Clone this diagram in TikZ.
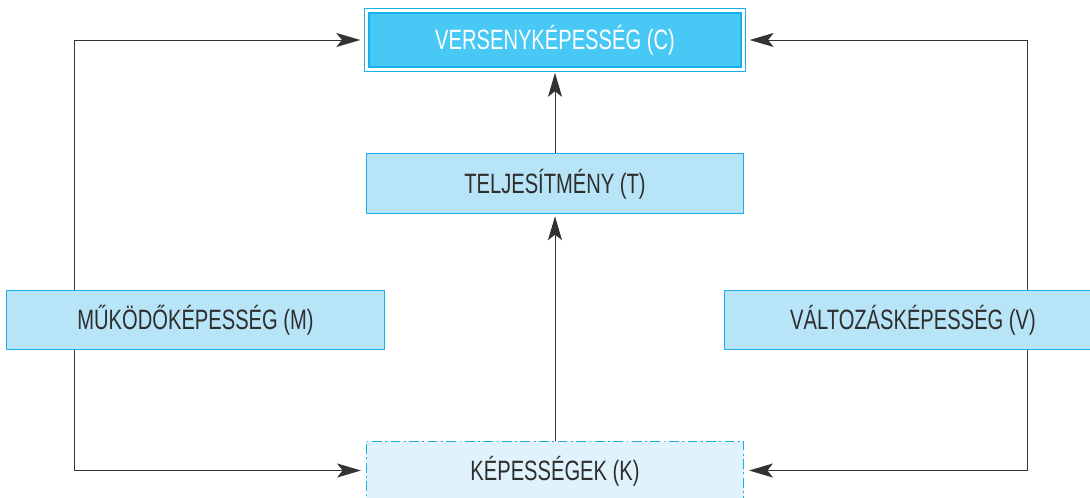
\documentclass[tikz,border=0pt]{standalone}
\usepackage{fontspec}
\setmainfont[FakeStretch=0.72]{Liberation Sans}
\usetikzlibrary{arrows.meta}
\definecolor{boxline}{HTML}{1CAEE8}
\definecolor{boxfill}{HTML}{B8E4F8}
\definecolor{topfill}{HTML}{48C8F5}
\definecolor{basefill}{HTML}{E0F3FC}
\definecolor{textgray}{HTML}{2E2E2E}
\definecolor{linegray}{HTML}{333333}

\begin{document}
\begin{tikzpicture}[x=0.025cm, y=-0.025cm, font=\fontsize{19.9}{24}\selectfont,
	box/.style={draw=boxline, line width=0.7pt, fill=boxfill, text=textgray, minimum width=9.43cm,
		minimum height=1.475cm, inner sep=0pt, text height=14.2pt, text depth=0pt},
	topbox/.style={box, fill=topfill, text=white, line width=1.4pt, minimum width=9.3cm, minimum height=1.35cm},
	basebox/.style={box, fill=basefill, dash pattern=on 7pt off 2.5pt on 1.2pt off 2.5pt},
	arr/.style={draw=linegray, line width=0.7pt, -{Stealth[length=17pt, width=10pt, inset=4pt]}}]
	\clip (0,0) rectangle (1090,498);
	% bend points of the side lines
	\coordinate (ml) at (74,0);
	\coordinate (vr) at (1027,0);
	\node[topbox] (C) at (555,40) {VERSENYKÉPESSÉG (C)};
	\draw[boxline, line width=0.6pt] ([shift={(-2.2pt,2.2pt)}]C.north west) rectangle ([shift={(2.2pt,-2.2pt)}]C.south east);
	\node[box] (T) at (555,183.5) {TELJESÍTMÉNY (T)};
	\node[box] (M) at (195.5,319.5) {MŰKÖDŐKÉPESSÉG (M)};
	\node[box] (V) at (913,319.5) {VÁLTOZÁSKÉPESSÉG (V)};
	\node[basebox] (K) at (555,470.5) {KÉPESSÉGEK (K)};
	\draw[arr, shorten >=3.5pt] (T.north) to (C.south);
	\draw[arr, shorten >=2pt] (K.north) to (T.south);
	\draw[arr, shorten >=5.5pt] (M.north -| ml) |- (C.west);
	\draw[arr, shorten >=5.5pt] (V.north -| vr) |- (C.east);
	\draw[arr, shorten >=3.5pt] (M.south -| ml) |- (K.west);
	\draw[arr, shorten >=3.5pt] (V.south -| vr) |- (K.east);
\end{tikzpicture}
\end{document}
